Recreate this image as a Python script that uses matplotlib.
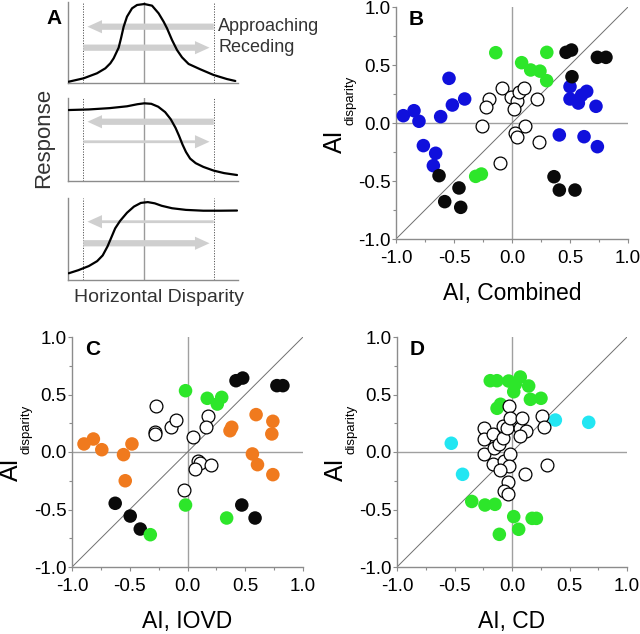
import matplotlib
matplotlib.use("Agg")
import matplotlib.pyplot as plt
from matplotlib.ticker import MultipleLocator

plt.rcParams["font.family"] = ["Liberation Sans", "DejaVu Sans"]
plt.rcParams["axes.unicode_minus"] = False

# ---- panel A: schematic tuning curves ----
top_x = [-1.09, -0.875, -0.682, -0.562, -0.49, -0.442, -0.37, -0.336, -0.298,
         -0.25, -0.177, -0.105, 0.0, 0.111, 0.206, 0.278, 0.327, 0.399, 0.471,
         0.543, 0.638, 0.807, 0.999, 1.19, 1.311]
top_y = [0.016, 0.058, 0.12, 0.181, 0.243, 0.305, 0.436, 0.552, 0.695, 0.819,
         0.922, 0.963, 0.975, 0.955, 0.86, 0.757, 0.675, 0.531, 0.407, 0.317,
         0.235, 0.169, 0.099, 0.049, 0.025]
mid_x = [-1.09, -0.8, -0.5, -0.25, -0.1, 0.0, 0.1, 0.2, 0.3, 0.38, 0.45, 0.5,
         0.55, 0.6, 0.66, 0.74, 0.85, 1.0, 1.15, 1.336]
mid_y = [0.855, 0.862, 0.878, 0.9, 0.925, 0.936, 0.93, 0.895, 0.83, 0.745,
         0.64, 0.545, 0.44, 0.35, 0.27, 0.215, 0.17, 0.125, 0.095, 0.072]
bot_x = [-1.09, -0.95, -0.8, -0.68, -0.6, -0.53, -0.47, -0.42, -0.35, -0.25,
         -0.15, -0.05, 0.05, 0.15, 0.25, 0.4, 0.6, 0.85, 1.1, 1.336]
bot_y = [0.082, 0.12, 0.17, 0.23, 0.3, 0.41, 0.53, 0.63, 0.72, 0.82, 0.895,
         0.94, 0.95, 0.935, 0.905, 0.875, 0.855, 0.845, 0.845, 0.847]

# ---- panel B: AI combined vs AI disparity ----
blue_b_x = [-0.937, -0.845, -0.802, -0.764, -0.658, -0.678, -0.543, -0.514,
            -0.615, -0.408, 0.50, 0.50, 0.572, 0.60, 0.644, 0.724, 0.408,
            0.621, 0.736]
blue_b_y = [0.063, 0.106, 0.015, -0.195, -0.261, -0.368, 0.385, 0.155, 0.055,
            0.207, 0.313, 0.207, 0.172, 0.24, 0.273, 0.144, -0.103, -0.118,
            -0.204]
black_b_x = [0.466, 0.513, 0.736, 0.81, 0.517, 0.362, 0.408, 0.543, -0.629,
             -0.457, -0.58, -0.442]
black_b_y = [0.609, 0.629, 0.566, 0.566, 0.399, -0.463, -0.578, -0.578, -0.454,
             -0.56, -0.678, -0.727]
green_b_x = [-0.14, 0.083, 0.161, 0.241, 0.299, 0.30, -0.313, -0.264]
green_b_y = [0.606, 0.52, 0.457, 0.447, 0.365, 0.609, -0.46, -0.44]
open_b_x = [-0.082, -0.197, -0.222, -0.262, -0.10, -0.005, 0.04, 0.063, 0.10,
            0.017, 0.218, 0.115, 0.022, 0.04, 0.232]
open_b_y = [0.30, 0.207, 0.135, -0.03, -0.344, 0.222, 0.19, 0.27, 0.30, 0.124,
            0.204, -0.027, -0.085, -0.118, -0.164]

# ---- panel C: AI IOVD vs AI disparity ----
orange_c_x = [-0.896, -0.815, -0.742, -0.554, -0.481, -0.539, 0.594, 0.739,
              0.73, 0.368, 0.383, 0.562, 0.606, 0.739]
orange_c_y = [0.07, 0.113, 0.02, -0.023, 0.07, -0.25, 0.325, 0.267, 0.157,
              0.185, 0.215, -0.017, -0.11, -0.197]
black_c_x = [-0.626, -0.496, -0.409, 0.42, 0.478, 0.774, 0.826, 0.47, 0.585]
black_c_y = [-0.446, -0.557, -0.67, 0.62, 0.643, 0.577, 0.577, -0.461, -0.574]
green_c_x = [-0.017, 0.171, 0.258, 0.296, -0.322, -0.017, 0.339]
green_c_y = [0.533, 0.467, 0.417, 0.475, -0.719, -0.461, -0.574]
open_c_x = [-0.272, -0.278, -0.278, -0.139, -0.096, -0.032, 0.18, 0.159, 0.05,
            0.093, 0.107, 0.064, 0.2]
open_c_y = [0.403, 0.171, 0.157, 0.215, 0.278, -0.33, 0.316, 0.215, 0.128,
            -0.076, -0.098, -0.148, -0.113]

# ---- panel D: AI CD vs AI disparity ----
green_d_x = [-0.189, -0.131, -0.029, 0.072, 0.029, 0.145, 0.015, 0.16, 0.252,
             -0.10, -0.13, -0.35, -0.235, -0.148, 0.015, 0.175, 0.212, 0.058,
             -0.11]
green_d_y = [0.62, 0.62, 0.617, 0.652, 0.589, 0.574, 0.524, 0.458, 0.467,
             0.415, 0.38, -0.43, -0.461, -0.455, -0.562, -0.577, -0.577,
             -0.672, -0.716]
cyan_d_x = [-0.528, -0.43, 0.377, 0.667]
cyan_d_y = [0.076, -0.194, 0.278, 0.258]
open_d_x = [-0.03, -0.247, -0.241, -0.165, -0.247, -0.16, -0.116, -0.078,
            -0.078, -0.043, -0.015, 0.072, 0.087, 0.124, 0.066, 0.261, 0.281,
            -0.165, -0.073, -0.021, -0.03, -0.108, -0.035, -0.073, -0.038,
            0.116, 0.304]
open_d_y = [0.40, 0.211, 0.11, 0.159, -0.02, 0.037, 0.067, 0.124, 0.226,
            0.211, 0.298, 0.211, 0.298, 0.183, 0.139, 0.313, 0.217, -0.102,
            -0.078, -0.02, -0.122, -0.159, -0.258, -0.339, -0.362, -0.194,
            -0.113]

BLUE = "#1010dc"
GREEN = "#2de62a"
ORANGE = "#f07a1e"
CYAN = "#22e6f2"
BLACK = "#0a0a0a"
AXGRAY = "#8c8c8c"
ARROW = "#cfcfcf"


def fig_rect(x0, y0, x1, y1):
    # pixel box (top-left origin) -> figure fraction
    return [x0 / 640, 1 - y1 / 634, (x1 - x0) / 640, (y1 - y0) / 634]


def arrow(ax, tail, tip, y, thick):
    tw = 0.45 if thick else 0.2
    style = "simple,head_length=1.05,head_width=0.95,tail_width=%.2f" % tw
    ax.annotate("", xy=(tip, y), xytext=(tail, y),
                arrowprops=dict(arrowstyle=style, color=ARROW, lw=0,
                                shrinkA=0, shrinkB=0, mutation_scale=10))


def tuning_axes(fig, rect, xs, ys):
    ax = fig.add_axes(rect)
    ax.set_xlim(-1.1, 1.35)
    ax.set_ylim(0, 1)
    for s in ("top", "right"):
        ax.spines[s].set_visible(False)
    for s in ("left", "bottom"):
        ax.spines[s].set_color(AXGRAY)
        ax.spines[s].set_linewidth(1.0)
    ax.set_xticks([])
    ax.set_yticks([])
    ax.axvline(0, color="#9a9a9a", lw=1.0, zorder=1)
    for xd in (-0.88, 1.0):
        ax.axvline(xd, color="#555555", lw=0.7, ls=(0, (1.2, 1.5)), zorder=1)
    ax.plot(xs, ys, color="black", lw=1.6, zorder=4,
            solid_joinstyle="round", solid_capstyle="round")
    return ax


def scatter_axes(fig, rect, letter, xlabel):
    ax = fig.add_axes(rect)
    ax.set_xlim(-1, 1)
    ax.set_ylim(-1, 1)
    for s in ("top", "right"):
        ax.spines[s].set_visible(False)
    for s in ("left", "bottom"):
        ax.spines[s].set_color(AXGRAY)
        ax.spines[s].set_linewidth(1.0)
    ax.set_xticks([-1.0, -0.5, 0.0, 0.5, 1.0])
    ax.set_yticks([-1.0, -0.5, 0.0, 0.5, 1.0])
    ax.set_xticklabels(["-1.0", "-0.5", "0.0", "0.5", "1.0"])
    ax.set_yticklabels(["-1.0", "-0.5", "0.0", "0.5", "1.0"])
    ax.xaxis.set_minor_locator(MultipleLocator(0.25))
    ax.yaxis.set_minor_locator(MultipleLocator(0.25))
    ax.tick_params(which="major", direction="out", length=3, width=0.8,
                   color=AXGRAY, labelsize=13.5)
    ax.tick_params(which="minor", direction="out", length=2, width=0.8,
                   color=AXGRAY)
    ax.tick_params(axis="x", pad=5)
    ax.tick_params(axis="y", pad=1)
    ax.axhline(0, color="#a0a0a0", lw=1.0, zorder=1)
    ax.axvline(0, color="#a0a0a0", lw=1.0, zorder=1)
    ax.plot([-1, 1], [-1, 1], color="#707070", lw=0.7, zorder=1)
    ax.set_xlabel(xlabel, fontsize=16.5)
    ax.xaxis.set_label_coords(0.5, -0.185)
    ax.text(-0.265, 0.372, "AI", rotation=90, fontsize=18, ha="center",
            va="bottom", transform=ax.transAxes)
    ax.text(-0.198, 0.49, "disparity", rotation=90, fontsize=9.5, ha="center",
            va="bottom", transform=ax.transAxes)
    ax.text(0.055, 0.985, letter, fontsize=15, fontweight="bold", ha="left",
            va="top", transform=ax.transAxes)
    return ax


def dots(ax, xs, ys, color):
    ax.scatter(xs, ys, s=95, color=color, edgecolors="none", zorder=3)


def rings(ax, xs, ys):
    ax.scatter(xs, ys, s=85, facecolors="white", edgecolors="black",
               linewidths=0.9, zorder=4)


def main():
    fig = plt.figure(figsize=(6.4, 6.34), dpi=100)

    # panel A
    a1 = tuning_axes(fig, fig_rect(68, 2, 238, 83), top_x, top_y)
    arrow(a1, 1.0, -0.82, 0.695, True)
    arrow(a1, -0.88, 0.94, 0.436, True)
    a1.text(1.066, 0.695, "Approaching", fontsize=13, color="#333333",
            va="center", ha="left")
    a1.text(1.066, 0.436, "Receding", fontsize=13, color="#333333",
            va="center", ha="left")

    a2 = tuning_axes(fig, fig_rect(68, 98, 238, 181), mid_x, mid_y)
    arrow(a2, 1.0, -0.82, 0.714, True)
    arrow(a2, -0.88, 0.94, 0.473, False)

    a3 = tuning_axes(fig, fig_rect(68, 198, 238, 280), bot_x, bot_y)
    arrow(a3, 1.0, -0.82, 0.711, False)
    arrow(a3, -0.88, 0.94, 0.448, True)

    fig.text(44 / 640, 1 - 138 / 634, "Response", rotation=90, fontsize=16,
             color="#333333", ha="center", va="center")
    fig.text(159 / 640, 1 - 297 / 634, "Horizontal Disparity", fontsize=14,
             color="#333333", ha="center", va="center")
    fig.text(54 / 640, 1 - 19 / 634, "A", fontsize=15, fontweight="bold",
             ha="center", va="center")

    # panel B
    axb = scatter_axes(fig, fig_rect(396, 7, 628, 239), "B", "AI, Combined")
    dots(axb, blue_b_x, blue_b_y, BLUE)
    dots(axb, black_b_x, black_b_y, BLACK)
    dots(axb, green_b_x, green_b_y, GREEN)
    rings(axb, open_b_x, open_b_y)

    # panel C
    axc = scatter_axes(fig, fig_rect(72, 337, 303, 567), "C", "AI, IOVD")
    dots(axc, orange_c_x, orange_c_y, ORANGE)
    dots(axc, black_c_x, black_c_y, BLACK)
    dots(axc, green_c_x, green_c_y, GREEN)
    rings(axc, open_c_x, open_c_y)

    # panel D
    axd = scatter_axes(fig, fig_rect(397, 337, 627, 567), "D", "AI, CD")
    dots(axd, green_d_x, green_d_y, GREEN)
    dots(axd, cyan_d_x, cyan_d_y, CYAN)
    rings(axd, open_d_x, open_d_y)

    fig.savefig("out.png", dpi=100)
    return 0


if __name__ == "__main__":
    main()
